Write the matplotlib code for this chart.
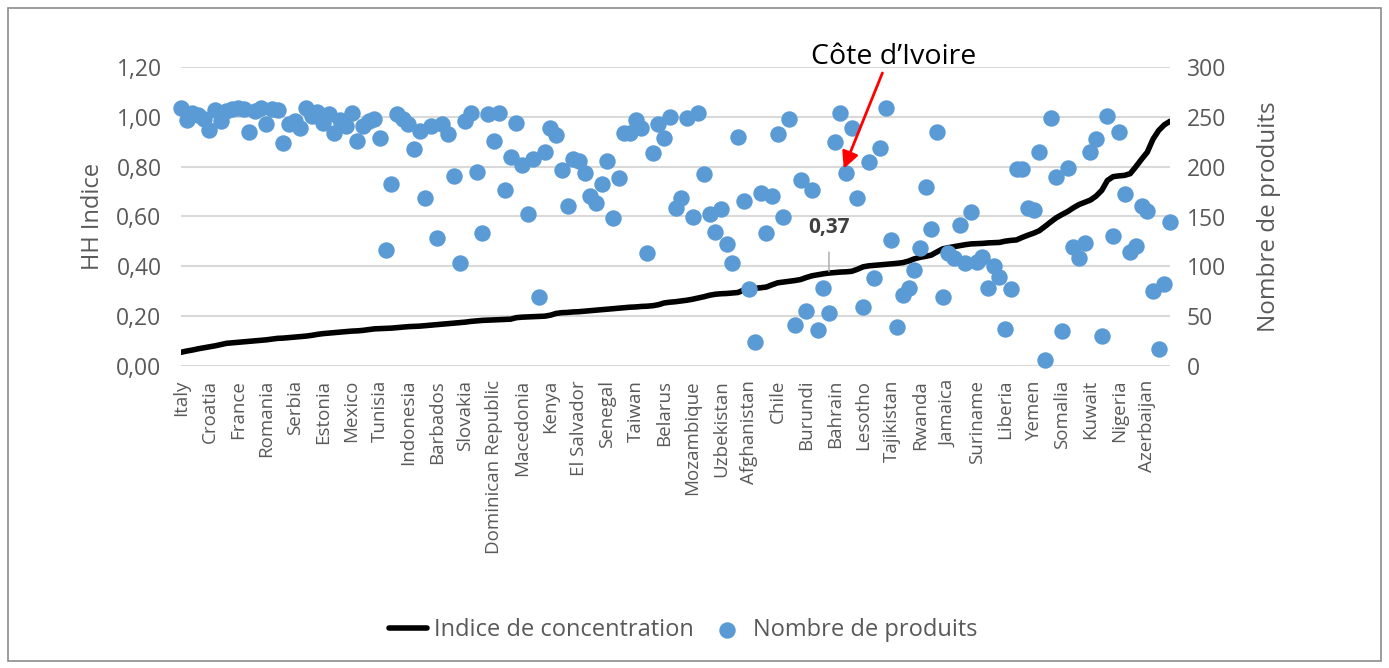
import matplotlib
matplotlib.use("Agg")
import matplotlib.pyplot as plt
from matplotlib.patches import Rectangle
from matplotlib.ticker import FuncFormatter

plt.rcParams["font.family"] = ["Open Sans", "DejaVu Sans"]

# one label every 5 countries (175 countries in total)
tick_labels = ["Italy", "Croatia", "France", "Romania", "Serbia", "Estonia", "Mexico",
               "Tunisia", "Indonesia", "Barbados", "Slovakia", "Dominican Republic",
               "Macedonia", "Kenya", "El Salvador", "Senegal", "Taiwan", "Belarus",
               "Mozambique", "Uzbekistan", "Afghanistan", "Chile", "Burundi", "Bahrain",
               "Lesotho", "Tajikistan", "Rwanda", "Jamaica", "Suriname", "Liberia",
               "Yemen", "Somalia", "Kuwait", "Nigeria", "Azerbaijan"]

# Herfindahl-Hirschman concentration index, sorted ascending
hh_index = [
    0.055, 0.060, 0.064, 0.069, 0.073, 0.077, 0.081, 0.086, 0.091, 0.093,
    0.095, 0.097, 0.099, 0.101, 0.103, 0.105, 0.108, 0.111, 0.112, 0.114,
    0.116, 0.118, 0.120, 0.123, 0.127, 0.130, 0.132, 0.134, 0.136, 0.138,
    0.140, 0.141, 0.143, 0.146, 0.149, 0.150, 0.151, 0.152, 0.154, 0.156,
    0.158, 0.159, 0.160, 0.162, 0.164, 0.166, 0.168, 0.170, 0.172, 0.174,
    0.176, 0.179, 0.181, 0.183, 0.184, 0.185, 0.186, 0.187, 0.188, 0.194,
    0.196, 0.197, 0.198, 0.199, 0.200, 0.204, 0.211, 0.214, 0.215, 0.217,
    0.218, 0.220, 0.222, 0.224, 0.226, 0.228, 0.230, 0.232, 0.234, 0.236,
    0.237, 0.239, 0.240, 0.242, 0.246, 0.253, 0.256, 0.258, 0.261, 0.264,
    0.268, 0.273, 0.278, 0.284, 0.288, 0.290, 0.291, 0.293, 0.295, 0.305,
    0.310, 0.312, 0.314, 0.317, 0.326, 0.334, 0.337, 0.340, 0.343, 0.347,
    0.355, 0.362, 0.366, 0.370, 0.373, 0.375, 0.377, 0.378, 0.380, 0.388,
    0.398, 0.402, 0.404, 0.406, 0.408, 0.410, 0.412, 0.415, 0.421, 0.430,
    0.436, 0.440, 0.445, 0.458, 0.470, 0.475, 0.479, 0.483, 0.487, 0.490,
    0.491, 0.492, 0.494, 0.495, 0.496, 0.501, 0.504, 0.506, 0.516, 0.525,
    0.533, 0.543, 0.560, 0.578, 0.595, 0.608, 0.620, 0.635, 0.648, 0.657,
    0.666, 0.682, 0.705, 0.745, 0.760, 0.763, 0.765, 0.772, 0.800, 0.830,
    0.858, 0.910, 0.945, 0.968, 0.982,
]

# number of exported products per country
nb_products = [
    259, 247, 254, 252, 248, 237, 257, 246, 256, 258,
    259, 258, 235, 256, 259, 243, 258, 257, 224, 243,
    246, 239, 259, 251, 255, 244, 253, 234, 247, 241,
    254, 226, 241, 246, 248, 229, 116, 183, 253, 248,
    243, 218, 236, 169, 241, 128, 243, 233, 191, 103,
    246, 254, 195, 133, 253, 226, 254, 177, 210, 244,
    202, 153, 208, 69, 215, 239, 232, 197, 161, 208,
    206, 194, 171, 164, 183, 206, 148, 189, 234, 234,
    247, 239, 113, 214, 243, 229, 250, 159, 169, 249,
    150, 254, 193, 153, 134, 158, 122, 103, 230, 166,
    77, 24, 174, 133, 171, 233, 150, 248, 41, 187,
    55, 177, 36, 78, 53, 225, 254, 194, 239, 169,
    59, 205, 88, 219, 259, 126, 39, 71, 78, 96,
    118, 180, 137, 235, 69, 113, 108, 141, 103, 155,
    104, 109, 78, 100, 89, 37, 77, 198, 198, 159,
    157, 215, 6, 249, 190, 35, 199, 119, 108, 123,
    215, 228, 30, 251, 130, 235, 173, 114, 120, 161,
    156, 75, 17, 82, 144,
]

label_idx = 114          # point carrying the "0,37" data label
ivory_idx = 117          # Côte d'Ivoire

TEXT = "#595959"
BLUE = "#5B9BD5"


def comma(fmt):
    return FuncFormatter(lambda v, _: format(v, fmt).replace(".", ","))


def main():
    fig = plt.figure(figsize=(13.89, 6.68), dpi=100)
    fig.patches.append(Rectangle((8 / 1389, 7 / 668), 1373 / 1389, 653 / 668,
                                 transform=fig.transFigure, fill=False,
                                 edgecolor="#8c8c8c", linewidth=1.2))
    ax = fig.add_axes([181 / 1389, 302 / 668, 989 / 1389, 299 / 668])
    ax2 = ax.twinx()

    x = list(range(len(hh_index)))
    line, = ax.plot(x, hh_index, color="black", linewidth=4,
                    solid_capstyle="round", label="Indice de concentration")
    dots = ax2.scatter(x, nb_products, s=140, color=BLUE, linewidths=0,
                       clip_on=False, zorder=3, label="Nombre de produits")

    ax.set_xlim(0, len(hh_index) - 1)
    ax.set_ylim(0, 1.2)
    ax2.set_ylim(0, 300)
    ax.set_yticks([i * 0.2 for i in range(7)])
    ax2.set_yticks(range(0, 301, 50))
    ax.yaxis.set_major_formatter(comma(".2f"))
    ax.set_xticks(range(0, len(hh_index), 5))
    ax.set_xticklabels(tick_labels, rotation=90, va="top", ha="center")

    ax.grid(axis="y", color="#d9d9d9", linewidth=1.5)
    ax.set_axisbelow(True)
    for a in (ax, ax2):
        for s in a.spines.values():
            s.set_visible(False)
        a.tick_params(length=0, colors=TEXT)
    ax.tick_params(axis="y", labelsize=16.5, pad=14)
    ax2.tick_params(axis="y", labelsize=16.5, pad=12)
    ax.tick_params(axis="x", labelsize=13.5, pad=10)

    ax.set_ylabel("HH Indice", fontsize=17, color=TEXT, labelpad=8)
    ax2.set_ylabel("Nombre de produits", fontsize=17.5, color=TEXT, labelpad=22)

    # data label on the concentration curve
    ax.annotate(format(hh_index[label_idx], ".2f").replace(".", ","),
                xy=(label_idx, hh_index[label_idx]), xytext=(label_idx, 0.555),
                ha="center", va="center", fontsize=15, fontweight="bold",
                color="#404040",
                arrowprops=dict(arrowstyle="-", color="#a6a6a6", lw=1,
                                shrinkA=8, shrinkB=1))

    # Côte d'Ivoire callout
    ax2.text(125.4, 310, "Côte d’Ivoire", ha="center", va="center",
             fontsize=20.5, color="black")
    ax2.annotate("", xy=(ivory_idx - 0.4, nb_products[ivory_idx] + 4),
                 xytext=(123.4, 294),
                 arrowprops=dict(arrowstyle="-|>,head_length=1.0,head_width=0.5",
                                 color="#ff0000", lw=2, shrinkA=0, shrinkB=0))

    fig.legend([line, dots], [line.get_label(), dots.get_label()], loc="center",
               bbox_to_anchor=(683 / 1389, 0.057), ncol=2, frameon=False,
               fontsize=17, handlelength=1.6, handletextpad=0.3,
               columnspacing=0.6, labelcolor=TEXT, markerscale=1.0)

    fig.savefig("out.png", dpi=100)
    plt.close(fig)


if __name__ == "__main__":
    main()
